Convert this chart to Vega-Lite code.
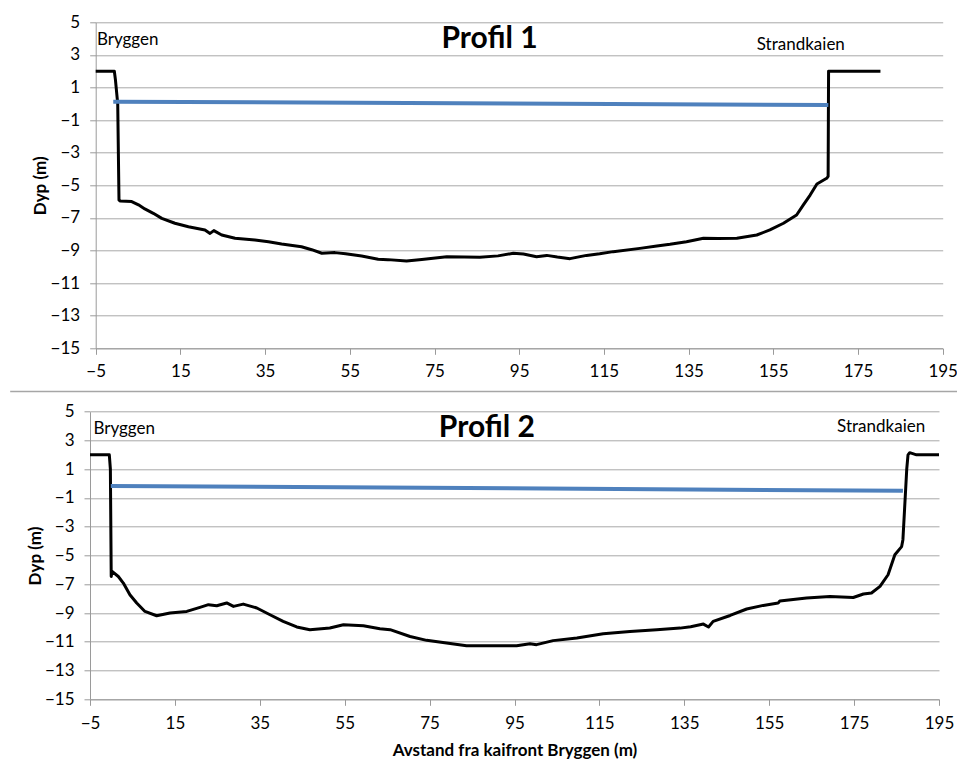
{
  "$schema": "https://vega.github.io/schema/vega-lite/v6.json",
  "background": "white",
  "autosize": "none",
  "padding": {"left": 90, "top": 22.3, "right": 14, "bottom": 60.7},
  "width": 853,
  "height": 677,
  "config": {
    "font": "Lato",
    "view": {"stroke": null},
    "axis": {
      "domainColor": "#9a9a9a",
      "tickColor": "#9a9a9a",
      "gridColor": "#a8a8a8",
      "labelColor": "#000000",
      "titleColor": "#000000",
      "labelFont": "Lato",
      "titleFont": "Lato",
      "labelFontSize": 17,
      "labelOverlap": false,
      "labelFlush": false,
      "tickSize": 6
    }
  },
  "datasets": {
    "profil1": [
      {"x": -5, "y": 2}, {"x": -0.6, "y": 2}, {"x": -0.35, "y": 1.5}, {"x": 0.2, "y": 0}, {"x": 0.5, "y": -5.9},
      {"x": 0.8, "y": -5.96}, {"x": 3.5, "y": -6.0}, {"x": 5.1, "y": -6.2}, {"x": 6.6, "y": -6.45}, {"x": 8.6, "y": -6.72},
      {"x": 10.6, "y": -7.03}, {"x": 13.7, "y": -7.33}, {"x": 16.9, "y": -7.54}, {"x": 20.8, "y": -7.74}, {"x": 22.0, "y": -7.95},
      {"x": 22.9, "y": -7.78}, {"x": 24.75, "y": -8.05}, {"x": 27.9, "y": -8.25}, {"x": 32.6, "y": -8.36}, {"x": 35.8, "y": -8.46},
      {"x": 38.9, "y": -8.6}, {"x": 43.6, "y": -8.77}, {"x": 46.0, "y": -8.95}, {"x": 48.4, "y": -9.17}, {"x": 51.5, "y": -9.13},
      {"x": 54.0, "y": -9.2}, {"x": 57.8, "y": -9.34}, {"x": 61.7, "y": -9.54}, {"x": 64.0, "y": -9.56}, {"x": 68.4, "y": -9.64},
      {"x": 72.0, "y": -9.55}, {"x": 77.9, "y": -9.38}, {"x": 82.0, "y": -9.4}, {"x": 85.7, "y": -9.42}, {"x": 90.0, "y": -9.33},
      {"x": 93.6, "y": -9.17}, {"x": 96.0, "y": -9.21}, {"x": 99.1, "y": -9.38}, {"x": 101.5, "y": -9.3}, {"x": 104.0, "y": -9.4},
      {"x": 107.0, "y": -9.5}, {"x": 110.9, "y": -9.3}, {"x": 114.0, "y": -9.2}, {"x": 117.2, "y": -9.07}, {"x": 123.5, "y": -8.87},
      {"x": 127.5, "y": -8.72}, {"x": 130.6, "y": -8.62}, {"x": 134.5, "y": -8.46}, {"x": 138.5, "y": -8.25}, {"x": 142.0, "y": -8.27},
      {"x": 146.4, "y": -8.25}, {"x": 151.1, "y": -8.05}, {"x": 154.2, "y": -7.74}, {"x": 157.4, "y": -7.33}, {"x": 160.5, "y": -6.82},
      {"x": 162.1, "y": -6.2}, {"x": 163.7, "y": -5.6}, {"x": 165.3, "y": -4.92}, {"x": 167.6, "y": -4.57}, {"x": 167.95, "y": -4.45},
      {"x": 168.05, "y": 2.0}, {"x": 180.3, "y": 2.0}
    ],
    "vann1": [{"x": -0.85, "y": 0.13}, {"x": 168.0, "y": -0.07}],
    "tekst1": [
      {"x": 88, "y": 4.0, "t": "Profil 1", "kind": "title"},
      {"x": -4.7, "y": 3.6, "t": "Bryggen", "kind": "label"},
      {"x": 151.1, "y": 3.3, "t": "Strandkaien", "kind": "label"}
    ],
    "profil2": [
      {"x": -5, "y": 2}, {"x": -0.45, "y": 2}, {"x": -0.2, "y": 1.0}, {"x": 0.0, "y": -6.46}, {"x": 0.2, "y": -6.1},
      {"x": 1.67, "y": -6.46}, {"x": 2.85, "y": -6.92}, {"x": 4.4, "y": -7.73}, {"x": 6.0, "y": -8.3}, {"x": 7.95, "y": -8.89},
      {"x": 10.7, "y": -9.19}, {"x": 13.85, "y": -9.0}, {"x": 17.8, "y": -8.89}, {"x": 20.9, "y": -8.61}, {"x": 22.9, "y": -8.42},
      {"x": 24.85, "y": -8.49}, {"x": 27.2, "y": -8.3}, {"x": 28.8, "y": -8.54}, {"x": 31.1, "y": -8.38}, {"x": 34.3, "y": -8.65},
      {"x": 37.4, "y": -9.12}, {"x": 40.5, "y": -9.58}, {"x": 43.7, "y": -9.97}, {"x": 46.8, "y": -10.16}, {"x": 51.5, "y": -10.04},
      {"x": 54.7, "y": -9.81}, {"x": 59.4, "y": -9.88}, {"x": 63.3, "y": -10.09}, {"x": 65.7, "y": -10.16}, {"x": 70.4, "y": -10.63},
      {"x": 74.3, "y": -10.9}, {"x": 79.0, "y": -11.08}, {"x": 83.7, "y": -11.27}, {"x": 90.0, "y": -11.27}, {"x": 95.5, "y": -11.27},
      {"x": 98.65, "y": -11.13}, {"x": 100.2, "y": -11.2}, {"x": 104.1, "y": -10.92}, {"x": 109.7, "y": -10.74}, {"x": 115.9, "y": -10.44},
      {"x": 122.2, "y": -10.28}, {"x": 128.5, "y": -10.16}, {"x": 134.0, "y": -10.05}, {"x": 136.5, "y": -9.95}, {"x": 139.5, "y": -9.77},
      {"x": 140.7, "y": -9.97}, {"x": 141.8, "y": -9.58}, {"x": 145.8, "y": -9.17}, {"x": 149.7, "y": -8.72}, {"x": 153.6, "y": -8.47},
      {"x": 157.1, "y": -8.31}, {"x": 157.5, "y": -8.17}, {"x": 163.8, "y": -7.96}, {"x": 169.3, "y": -7.85}, {"x": 174.8, "y": -7.92},
      {"x": 177.2, "y": -7.68}, {"x": 179.1, "y": -7.61}, {"x": 181.1, "y": -7.15}, {"x": 183.0, "y": -6.34}, {"x": 184.6, "y": -4.95},
      {"x": 186.2, "y": -4.38}, {"x": 186.5, "y": -3.9}, {"x": 187.4, "y": 1.0}, {"x": 187.7, "y": 2.0}, {"x": 188.1, "y": 2.15},
      {"x": 189.7, "y": 2.0}, {"x": 195.0, "y": 2.0}
    ],
    "vann2": [{"x": -0.1, "y": -0.16}, {"x": 186.5, "y": -0.5}],
    "tekst2": [
      {"x": 88.5, "y": 3.87, "t": "Profil 2", "kind": "title"},
      {"x": -4.2, "y": 3.43, "t": "Bryggen", "kind": "label"},
      {"x": 171.0, "y": 3.61, "t": "Strandkaien", "kind": "label"}
    ],
    "skille": [{"x": -23.8, "x2": 199.5, "y": 6.4}]
  },
  "layer": [
    {
      "layer": [
        {
          "data": {"name": "profil1"},
          "mark": {"type": "line", "color": "#000000", "strokeWidth": 3, "strokeJoin": "round", "clip": false},
          "encoding": {
            "x": {"field": "x", "type": "quantitative",
              "scale": {"domain": [-5, 195], "range": [5.7, 852.7], "nice": false, "zero": false},
              "axis": {"orient": "bottom", "offset": -351, "values": [-5, 15, 35, 55, 75, 95, 115, 135, 155, 175, 195], "grid": false, "title": null,
                "labelBaseline": "middle", "labelPadding": 17}},
            "y": {"field": "y", "type": "quantitative",
              "scale": {"domain": [-15, 5], "range": [326, 0], "nice": false, "zero": false},
              "axis": {"orient": "left", "offset": -5.7, "values": [-15, -13, -11, -9, -7, -5, -3, -1, 1, 3, 5], "grid": true, "title": "Dyp (m)",
                "titleFontSize": 17, "titleFontWeight": "bold", "titleX": -55, "titleY": 163, "titleBaseline": "middle",
                "labelPadding": 10}}
          }
        },
        {
          "data": {"name": "vann1"},
          "mark": {"type": "line", "color": "#4f81bd", "strokeWidth": 4},
          "encoding": {
            "x": {"field": "x", "type": "quantitative"},
            "y": {"field": "y", "type": "quantitative"}
          }
        },
        {
          "data": {"name": "tekst1"},
          "transform": [{"filter": "datum.kind == 'title'"}],
          "mark": {"type": "text", "font": "Lato", "fontSize": 30, "fontWeight": "bold", "align": "center", "baseline": "middle", "color": "#000000"},
          "encoding": {
            "x": {"field": "x", "type": "quantitative"},
            "y": {"field": "y", "type": "quantitative"},
            "text": {"field": "t"}
          }
        },
        {
          "data": {"name": "tekst1"},
          "transform": [{"filter": "datum.kind == 'label'"}],
          "mark": {"type": "text", "font": "Lato", "fontSize": 17, "align": "left", "baseline": "alphabetic", "color": "#000000"},
          "encoding": {
            "x": {"field": "x", "type": "quantitative"},
            "y": {"field": "y", "type": "quantitative"},
            "text": {"field": "t"}
          }
        }
      ]
    },
    {
      "layer": [
        {
          "data": {"name": "profil2"},
          "mark": {"type": "line", "color": "#000000", "strokeWidth": 3, "strokeJoin": "round", "clip": false},
          "encoding": {
            "x": {"field": "x", "type": "quantitative",
              "scale": {"domain": [-5, 195], "range": [0, 849], "nice": false, "zero": false},
              "axis": {"orient": "bottom", "offset": 0, "values": [-5, 15, 35, 55, 75, 95, 115, 135, 155, 175, 195], "grid": false,
                "title": "Avstand fra kaifront Bryggen (m)", "titleFontSize": 17, "titleFontWeight": "bold",
                "titleY": 51, "titleBaseline": "middle",
                "labelBaseline": "middle", "labelPadding": 18}},
            "y": {"field": "y", "type": "quantitative",
              "scale": {"domain": [-15, 5], "range": [677, 389.4], "nice": false, "zero": false},
              "axis": {"orient": "left", "offset": 0, "values": [-15, -13, -11, -9, -7, -5, -3, -1, 1, 3, 5], "grid": true, "title": "Dyp (m)",
                "titleFontSize": 17, "titleFontWeight": "bold", "titleX": -55, "titleY": 533.2, "titleBaseline": "middle",
                "labelPadding": 10}}
          }
        },
        {
          "data": {"name": "vann2"},
          "mark": {"type": "line", "color": "#4f81bd", "strokeWidth": 4},
          "encoding": {
            "x": {"field": "x", "type": "quantitative"},
            "y": {"field": "y", "type": "quantitative"}
          }
        },
        {
          "data": {"name": "tekst2"},
          "transform": [{"filter": "datum.kind == 'title'"}],
          "mark": {"type": "text", "font": "Lato", "fontSize": 30, "fontWeight": "bold", "align": "center", "baseline": "middle", "color": "#000000"},
          "encoding": {
            "x": {"field": "x", "type": "quantitative"},
            "y": {"field": "y", "type": "quantitative"},
            "text": {"field": "t"}
          }
        },
        {
          "data": {"name": "tekst2"},
          "transform": [{"filter": "datum.kind == 'label'"}],
          "mark": {"type": "text", "font": "Lato", "fontSize": 17, "align": "left", "baseline": "alphabetic", "color": "#000000"},
          "encoding": {
            "x": {"field": "x", "type": "quantitative"},
            "y": {"field": "y", "type": "quantitative"},
            "text": {"field": "t"}
          }
        },
        {
          "data": {"name": "skille"},
          "mark": {"type": "rule", "color": "#a6a6a6", "strokeWidth": 1.5, "clip": false},
          "encoding": {
            "x": {"field": "x", "type": "quantitative"},
            "x2": {"field": "x2"},
            "y": {"field": "y", "type": "quantitative"}
          }
        }
      ]
    }
  ],
  "resolve": {
    "scale": {"x": "independent", "y": "independent"},
    "axis": {"x": "independent", "y": "independent"}
  }
}
